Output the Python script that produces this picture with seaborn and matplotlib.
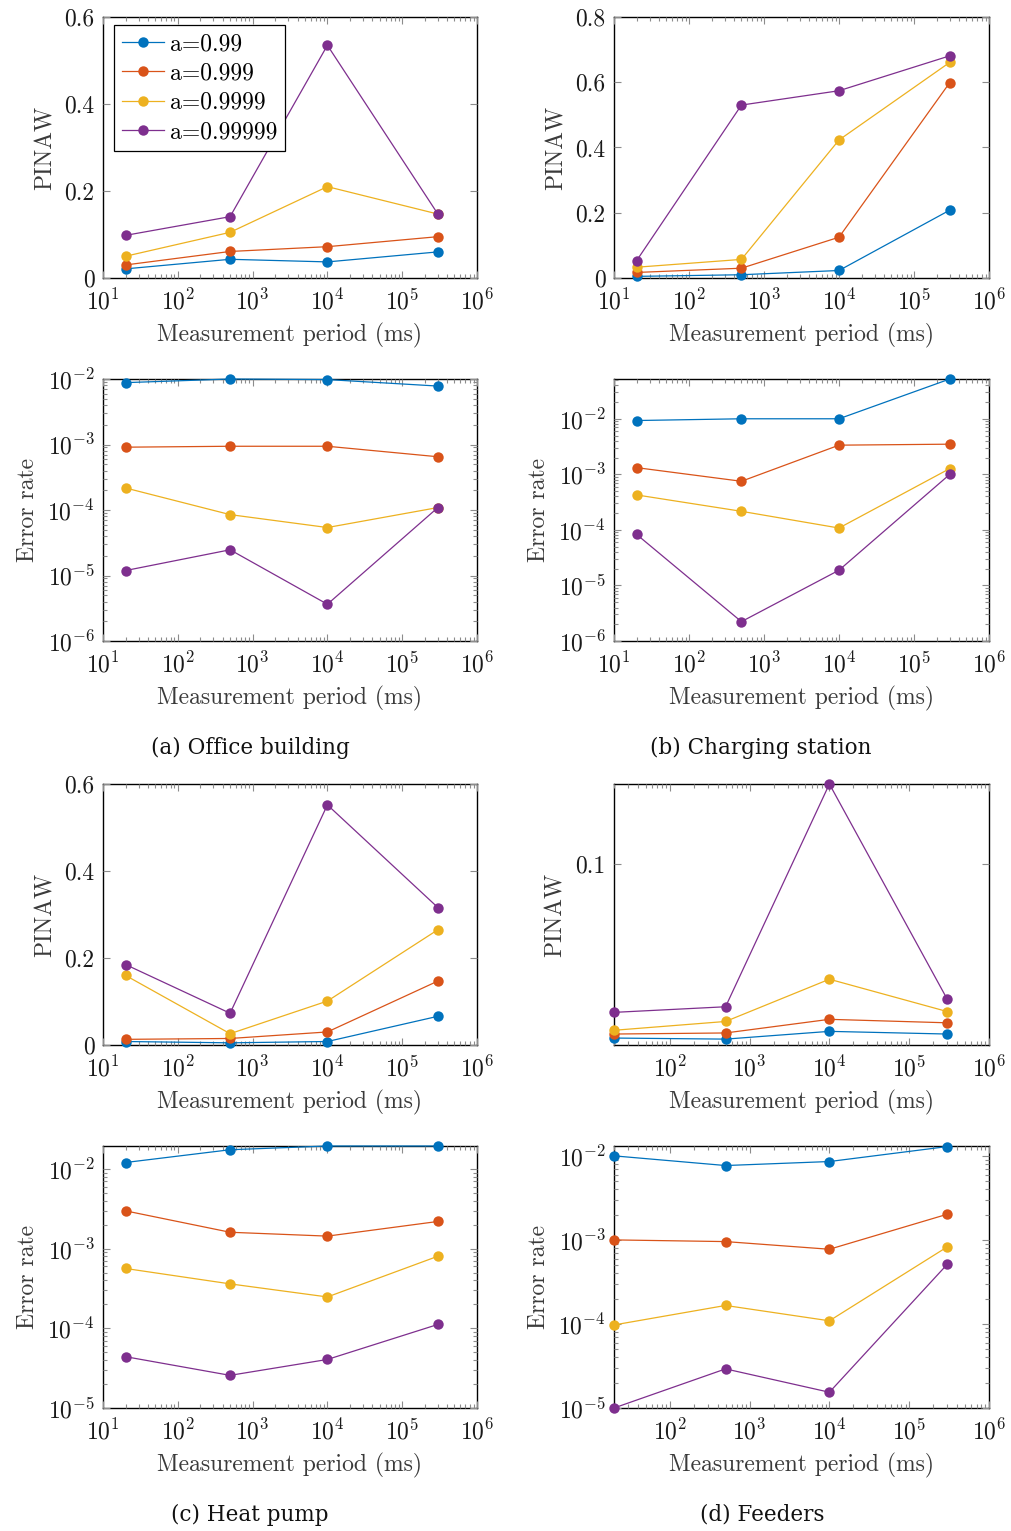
import numpy as np
import pandas as pd
import matplotlib
matplotlib.use("Agg")
import matplotlib.pyplot as plt
import seaborn as sns
from matplotlib.ticker import FixedLocator, FixedFormatter, LogLocator, NullFormatter

# ---- data -------------------------------------------------------------
periods = [20, 500, 10000, 300000]          # measurement period (ms)
levels = ["a=0.99", "a=0.999", "a=0.9999", "a=0.99999"]
colors = ["#0072BD", "#D95319", "#EDB120", "#7E2F8E"]

# rows follow `levels`, columns follow `periods`
office_pinaw = [
    [0.021, 0.043, 0.037, 0.060],
    [0.030, 0.061, 0.072, 0.095],
    [0.050, 0.105, 0.210, 0.147],
    [0.098, 0.141, 0.535, 0.147],
]
office_error = [
    [8.8e-3, 1.0e-2, 9.8e-3, 7.8e-3],
    [9.1e-4, 9.4e-4, 9.4e-4, 6.5e-4],
    [2.17e-4, 8.5e-5, 5.4e-5, 1.09e-4],
    [1.19e-5, 2.47e-5, 3.64e-6, 1.09e-4],
]
charging_pinaw = [
    [0.005, 0.010, 0.023, 0.208],
    [0.017, 0.030, 0.125, 0.599],
    [0.033, 0.057, 0.423, 0.661],
    [0.053, 0.530, 0.574, 0.681],
]
charging_error = [
    [9.3e-3, 1.0e-2, 1.0e-2, 5.2e-2],
    [1.32e-3, 7.5e-4, 3.35e-3, 3.49e-3],
    [4.26e-4, 2.16e-4, 1.08e-4, 1.27e-3],
    [8.3e-5, 2.23e-6, 1.88e-5, 1.0e-3],
]
heatpump_pinaw = [
    [0.008, 0.005, 0.008, 0.066],
    [0.013, 0.015, 0.030, 0.147],
    [0.160, 0.026, 0.101, 0.265],
    [0.185, 0.073, 0.552, 0.316],
]
heatpump_error = [
    [1.21e-2, 1.75e-2, 1.95e-2, 1.95e-2],
    [2.99e-3, 1.61e-3, 1.44e-3, 2.20e-3],
    [5.65e-4, 3.62e-4, 2.48e-4, 8.05e-4],
    [4.41e-5, 2.57e-5, 4.07e-5, 1.12e-4],
]
feeders_pinaw = [
    [0.0350, 0.0346, 0.0375, 0.0365],
    [0.0365, 0.0369, 0.0420, 0.0407],
    [0.0379, 0.0412, 0.0570, 0.0449],
    [0.0446, 0.0467, 0.1300, 0.0495],
]
feeders_error = [
    [1.0e-2, 7.67e-3, 8.56e-3, 1.29e-2],
    [1.0e-3, 9.55e-4, 7.74e-4, 2.02e-3],
    [9.73e-5, 1.66e-4, 1.09e-4, 8.26e-4],
    [1.0e-5, 2.92e-5, 1.54e-5, 5.13e-4],
]

captions = ["(a) Office building", "(b) Charging station", "(c) Heat pump", "(d) Feeders"]

# ---- style -------------------------------------------------------------
plt.rcParams.update({
    "font.family": "serif",
    "font.serif": ["cmr10", "DejaVu Serif"],
    "mathtext.fontset": "cm",
    "axes.formatter.use_mathtext": True,
    "axes.unicode_minus": True,
    "font.size": 17,
    "axes.linewidth": 1.0,
    "axes.edgecolor": "black",
})

W, H = 1012, 1531
fig = plt.figure(figsize=(W / 100, H / 100), dpi=100)


def add_axes(left, top, right, bottom):
    return fig.add_axes([left / W, 1 - bottom / H, (right - left) / W, (bottom - top) / H])


def draw_panel(ax, values, ylabel, log_y, ylim, xlim=(10, 1e6), yticks=None, yticklabels=None):
    df = pd.DataFrame({
        "period": np.tile(periods, len(levels)),
        "value": np.ravel(values),
        "level": np.repeat(levels, len(periods)),
    })
    ax.set_xscale("log")
    if log_y:
        ax.set_yscale("log")
    sns.lineplot(data=df, x="period", y="value", hue="level", hue_order=levels,
                 palette=colors, marker="o", markersize=7.5, markeredgewidth=0,
                 linewidth=0.9, estimator=None, errorbar=None, legend=False,
                 clip_on=False, ax=ax)
    ax.set_xlim(*xlim)
    ax.set_ylim(*ylim)
    ax.xaxis.set_major_locator(LogLocator(base=10, numticks=12))
    ax.xaxis.set_minor_locator(LogLocator(base=10, subs=np.arange(2, 10), numticks=12))
    ax.xaxis.set_minor_formatter(NullFormatter())
    if log_y:
        ax.yaxis.set_major_locator(LogLocator(base=10, numticks=12))
        ax.yaxis.set_minor_locator(LogLocator(base=10, subs=np.arange(2, 10), numticks=12))
        ax.yaxis.set_minor_formatter(NullFormatter())
    else:
        ax.yaxis.set_major_locator(FixedLocator(yticks))
        ax.yaxis.set_major_formatter(FixedFormatter(yticklabels))
    ax.tick_params(which="both", direction="in", top=True, right=True,
                   color="#8c8c8c", width=0.8, labelcolor="#1a1a1a")
    ax.tick_params(which="major", length=5)
    ax.tick_params(which="minor", length=3)
    ax.tick_params(axis="x", which="major", pad=8)
    ax.tick_params(axis="y", which="major", pad=6)
    ax.set_xlabel("Measurement period (ms)", color="#3a3a3a", labelpad=6)
    ax.set_ylabel(ylabel, color="#3a3a3a", labelpad=6)
    for s in ax.spines.values():
        s.set_zorder(1)


cols = [(103, 477), (614, 989)]
rows = [(17, 278), (379, 641), (784, 1045), (1146, 1408)]

lin6 = dict(yticks=[0, 0.2, 0.4, 0.6], yticklabels=["0", "0.2", "0.4", "0.6"])
lin8 = dict(yticks=[0, 0.2, 0.4, 0.6, 0.8], yticklabels=["0", "0.2", "0.4", "0.6", "0.8"])

ax = add_axes(cols[0][0], rows[0][0], cols[0][1], rows[0][1])
draw_panel(ax, office_pinaw, "PINAW", False, (0, 0.6), **lin6)
leg = ax.legend(ax.lines[:4], levels, loc="upper left", bbox_to_anchor=(0.03, 0.969),
                borderaxespad=0, frameon=True, fancybox=False, framealpha=1,
                edgecolor="black", fontsize=17, handlelength=1.75, handletextpad=0.25,
                labelspacing=0.3, borderpad=0.35)
leg.get_frame().set_linewidth(0.9)

ax = add_axes(cols[1][0], rows[0][0], cols[1][1], rows[0][1])
draw_panel(ax, charging_pinaw, "PINAW", False, (0, 0.8), **lin8)

ax = add_axes(cols[0][0], rows[1][0], cols[0][1], rows[1][1])
draw_panel(ax, office_error, "Error rate", True, (1e-6, 1e-2))

ax = add_axes(cols[1][0], rows[1][0], cols[1][1], rows[1][1])
draw_panel(ax, charging_error, "Error rate", True, (1e-6, 5.2e-2))

ax = add_axes(cols[0][0], rows[2][0], cols[0][1], rows[2][1])
draw_panel(ax, heatpump_pinaw, "PINAW", False, (0, 0.6), **lin6)

ax = add_axes(cols[1][0], rows[2][0], cols[1][1], rows[2][1])
draw_panel(ax, feeders_pinaw, "PINAW", False, (0.0324, 0.13), xlim=(20, 1e6),
           yticks=[0.1], yticklabels=["0.1"])

ax = add_axes(cols[0][0], rows[3][0], cols[0][1], rows[3][1])
draw_panel(ax, heatpump_error, "Error rate", True, (1e-5, 1.95e-2))

ax = add_axes(cols[1][0], rows[3][0], cols[1][1], rows[3][1])
draw_panel(ax, feeders_error, "Error rate", True, (1e-5, 1.31e-2), xlim=(20, 1e6))

# sub-figure captions
cap_pos = [(250, 748), (761, 748), (250, 1515), (762, 1515)]
for (cx, cy), text in zip(cap_pos, captions):
    fig.text(cx / W, 1 - cy / H, text, ha="center", va="center",
             family="DejaVu Serif", fontsize=15.5, color="#111111")

fig.savefig("out.png", dpi=100)
